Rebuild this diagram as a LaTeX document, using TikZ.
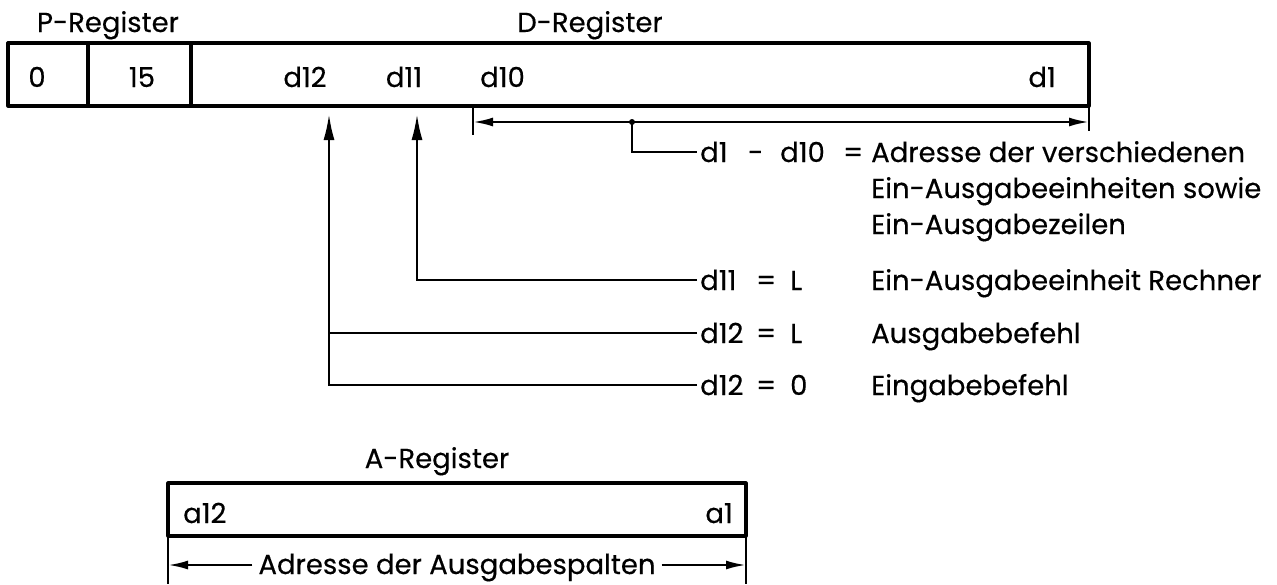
\documentclass[tikz,border=0pt]{standalone}
\usepackage{fontspec}
\setmainfont{Poppins}[FakeBold=0.4]
\usetikzlibrary{arrows.meta}
\begin{document}
\begin{tikzpicture}[x=1pt,y=-1pt,
  lbl/.style={inner sep=0pt, font=\fontsize{27.5}{33}\selectfont},
  regbox/.style={line width=3.2pt, line join=round},
  lead/.style={line width=2.4pt},
  uparrow/.style={-{Latex[length=26pt,width=11pt]}},
  dimtip/.style={-{Latex[length=20pt,width=9pt]}},
]
\useasboundingbox (0,0) rectangle (1277,584);
% register box
\draw[regbox] (8,43) rectangle (1089,106);
\draw[regbox] (88,43) -- (88,106);
\draw[regbox] (191,43) -- (191,106);
\node[lbl,anchor=base] (preg) at (108,32) {P-Register};
\node[lbl,anchor=base] (dreg) at (590,32) {D-Register};
\node[lbl,anchor=base] (c0) at (37,87) {0};
\node[lbl,anchor=base] (c15) at (142,87) {15};
\node[lbl,anchor=base] (cd12) at (305,87) {d12};
\node[lbl,anchor=base] (cd11) at (404,87) {d11};
\node[lbl,anchor=base west] (cd10) at (480,87) {d10};
\node[lbl,anchor=base east] (cd1) at (1056,87) {d1};
% dimension d1-d10
\coordinate (dl) at (473,122);
\coordinate (dr) at (1089,122);
\coordinate (dot) at (632,122);
\draw[lead] (473,106) -- (473,135);
\draw[lead] (1089,106) -- (1089,131);
\draw[lead,dimtip] (dot) -- (dl);
\draw[lead,dimtip] (dot) -- (dr);
\fill (dot) circle (3pt);
\node[lbl,anchor=base west,inner xsep=3pt] (e10) at (697,162)
  {\makebox[48pt][l]{d1}\makebox[32pt][l]{-}\makebox[63pt][l]{d10}=};
\draw[lead] (dot) |- (e10.west);
\node[lbl,anchor=base west] (x10a) at (871,162) {Adresse der verschiedenen};
\node[lbl,anchor=base west] (x10b) at (871,198) {Ein-Ausgabeeinheiten sowie};
\node[lbl,anchor=base west] (x10c) at (871,234) {Ein-Ausgabezeilen};
% d11
\coordinate (t11) at (417,114);
\node[lbl,anchor=base west,inner xsep=3pt] (e11) at (697,290)
  {\makebox[56pt][l]{d11}\makebox[34pt][l]{=}L};
\node[lbl,anchor=base west] (x11) at (871,290) {Ein-Ausgabeeinheit Rechner};
\draw[lead,uparrow] (e11.west) -| (t11);
% d12
\coordinate (t12) at (329,114);
\node[lbl,anchor=base west,inner xsep=3pt] (e12a) at (697,343)
  {\makebox[56pt][l]{d12}\makebox[34pt][l]{=}L};
\node[lbl,anchor=base west] (x12a) at (871,343) {Ausgabebefehl};
\node[lbl,anchor=base west,inner xsep=3pt] (e12b) at (697,395)
  {\makebox[56pt][l]{d12}\makebox[34pt][l]{=}0};
\node[lbl,anchor=base west] (x12b) at (871,395) {Eingabebefehl};
\draw[lead,uparrow] (e12b.west) -| (t12);
\draw[lead] (e12a.west) -- (e12a.west -| t12);
% A-Register
\node[lbl,anchor=base] (areg) at (437,468) {A-Register};
\draw[regbox] (168,483) rectangle (746,536);
\node[lbl,anchor=base west] (a12) at (183,523) {a12};
\node[lbl,anchor=base east] (a1) at (733,523) {a1};
\coordinate (al) at (168,565);
\coordinate (ar) at (746,565);
\draw[lead] (168,536) -- (168,584);
\draw[lead] (746,536) -- (746,584);
\node[lbl,anchor=base,inner xsep=6pt] (adr) at (457,574) {Adresse der Ausgabespalten};
\draw[lead,dimtip] (adr.west |- al) -- (al);
\draw[lead,dimtip] (adr.east |- ar) -- (ar);
\end{tikzpicture}
\end{document}
